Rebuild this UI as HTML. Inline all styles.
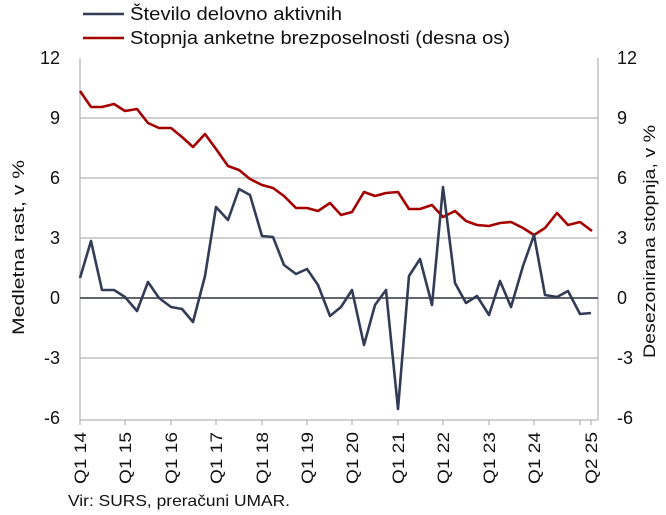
<!DOCTYPE html>
<html><head><meta charset="utf-8"><style>
html,body{margin:0;padding:0;background:#fff;}
svg{display:block;font-family:"Liberation Sans",sans-serif;}
</style></head><body>
<svg width="666" height="515" viewBox="0 0 666 515" xmlns="http://www.w3.org/2000/svg">
<g stroke="#c0c0c0" stroke-width="1.5" fill="none">
<line x1="80" y1="118" x2="598" y2="118"/>
<line x1="80" y1="178" x2="598" y2="178"/>
<line x1="80" y1="238" x2="598" y2="238"/>
<line x1="80" y1="358" x2="598" y2="358"/>
<line x1="80" y1="58" x2="80" y2="420"/>
<line x1="598" y1="58" x2="598" y2="420"/>
<line x1="80" y1="420" x2="598" y2="420"/>
<line x1="80" y1="420" x2="80" y2="425"/><line x1="125" y1="420" x2="125" y2="425"/><line x1="171" y1="420" x2="171" y2="425"/><line x1="216" y1="420" x2="216" y2="425"/><line x1="262" y1="420" x2="262" y2="425"/><line x1="307" y1="420" x2="307" y2="425"/><line x1="352" y1="420" x2="352" y2="425"/><line x1="398" y1="420" x2="398" y2="425"/><line x1="443" y1="420" x2="443" y2="425"/><line x1="489" y1="420" x2="489" y2="425"/><line x1="534" y1="420" x2="534" y2="425"/><line x1="580" y1="420" x2="580" y2="425"/><line x1="591" y1="420" x2="591" y2="425"/>
</g>
<line x1="80" y1="298" x2="598" y2="298" stroke="#4a4f5a" stroke-width="1.8"/>
<polyline fill="none" stroke="#a50000" stroke-width="2.6" stroke-linejoin="round" points="80,91 91,107 102,107 114,104 125,111 137,109 148,123 159,128 171,128 182,137 193,147 205,134 216,149 228,166 239,170 250,179 262,185 273,188 284,196 296,208 307,208 318,211 330,203 341,215 352,212 364,192 375,196 386,193 398,192 409,209 420,209 432,205 443,217 455,211 466,221 477,225 489,226 500,223 511,222 523,228 534,235 545,228 557,213 568,225 580,222 592,231"/>
<polyline fill="none" stroke="#323c57" stroke-width="2.6" stroke-linejoin="round" points="80,278 91,241 102,290 114,290 125,297 137,311 148,282 159,298 171,307 182,309 193,322 205,276 216,207 228,220 239,189 250,195 262,236 273,237 284,265 296,274 307,269 318,285 330,316 341,307 352,290 364,345 375,305 386,290 398,409 409,276 420,259 432,305 443,187 455,283 466,303 477,296 489,315 500,281 511,307 523,266 534,235 545,295 557,297 568,291 580,314 591,313"/>
<g font-size="18" fill="#111">
<g text-anchor="end">
<text x="60" y="64">12</text><text x="60" y="124">9</text><text x="60" y="184">6</text><text x="60" y="244">3</text><text x="60" y="304">0</text><text x="60" y="364">-3</text><text x="60" y="424">-6</text>
</g>
<g text-anchor="start">
<text x="617" y="64">12</text><text x="617" y="124">9</text><text x="617" y="184">6</text><text x="617" y="244">3</text><text x="617" y="304">0</text><text x="617" y="364">-3</text><text x="617" y="424">-6</text>
</g>
<g text-anchor="end" font-size="17">
<text transform="translate(86,432) rotate(-90)" textLength="52" lengthAdjust="spacingAndGlyphs">Q1 14</text>
<text transform="translate(131,432) rotate(-90)" textLength="52" lengthAdjust="spacingAndGlyphs">Q1 15</text>
<text transform="translate(177,432) rotate(-90)" textLength="52" lengthAdjust="spacingAndGlyphs">Q1 16</text>
<text transform="translate(222,432) rotate(-90)" textLength="52" lengthAdjust="spacingAndGlyphs">Q1 17</text>
<text transform="translate(268,432) rotate(-90)" textLength="52" lengthAdjust="spacingAndGlyphs">Q1 18</text>
<text transform="translate(313,432) rotate(-90)" textLength="52" lengthAdjust="spacingAndGlyphs">Q1 19</text>
<text transform="translate(358,432) rotate(-90)" textLength="52" lengthAdjust="spacingAndGlyphs">Q1 20</text>
<text transform="translate(404,432) rotate(-90)" textLength="52" lengthAdjust="spacingAndGlyphs">Q1 21</text>
<text transform="translate(449,432) rotate(-90)" textLength="52" lengthAdjust="spacingAndGlyphs">Q1 22</text>
<text transform="translate(495,432) rotate(-90)" textLength="52" lengthAdjust="spacingAndGlyphs">Q1 23</text>
<text transform="translate(540,432) rotate(-90)" textLength="52" lengthAdjust="spacingAndGlyphs">Q1 24</text>
<text transform="translate(597,432) rotate(-90)" textLength="52" lengthAdjust="spacingAndGlyphs">Q2 25</text>
</g>
<text transform="translate(24,335) rotate(-90)" text-anchor="start" font-size="17" textLength="175" lengthAdjust="spacingAndGlyphs">Medletna rast, v %</text>
<text transform="translate(655,358) rotate(-90)" text-anchor="start" font-size="17" textLength="233" lengthAdjust="spacingAndGlyphs">Desezonirana stopnja, v %</text>
<text x="130" y="20" textLength="212" lengthAdjust="spacingAndGlyphs">Število delovno aktivnih</text>
<text x="130" y="44" textLength="380" lengthAdjust="spacingAndGlyphs">Stopnja anketne brezposelnosti (desna os)</text>
<text x="68" y="506" font-size="16" textLength="222" lengthAdjust="spacingAndGlyphs">Vir: SURS, preračuni UMAR.</text>
</g>
<line x1="83" y1="14" x2="124" y2="14" stroke="#323c57" stroke-width="2.6"/>
<line x1="83" y1="38" x2="124" y2="38" stroke="#a50000" stroke-width="2.6"/>
</svg>
</body></html>
